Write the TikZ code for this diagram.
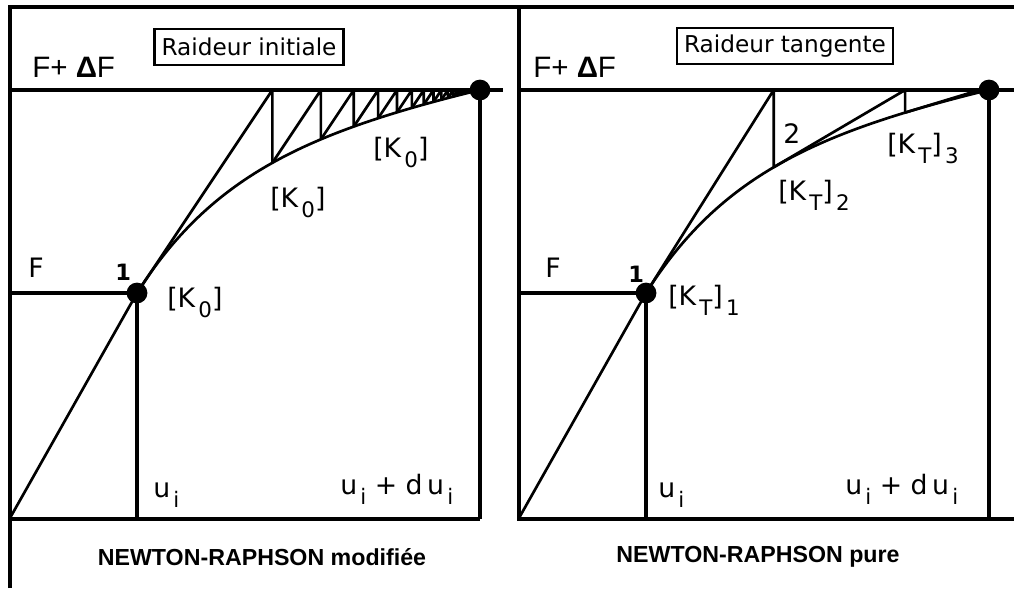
\documentclass[tikz,border=0pt]{standalone}
\usepackage{fontspec}
\usepackage{graphicx}
\setmainfont{Liberation Sans}
\newfontfamily\geneva{DejaVu Sans}
\newcommand{\ix}[1]{\raisebox{-0.7ex}{\kern0.12em\scalebox{0.8}{#1}}}
\tikzset{
  cadre/.style={line width=2.6pt},
  trait/.style={line width=1.9pt, line join=round},
  etiq/.style={font=\geneva\fontsize{19}{22}\selectfont, inner sep=0pt, anchor=base west},
  titre/.style={draw, line width=1.8pt, font=\geneva\fontsize{16.5}{20}\selectfont, inner xsep=5pt, inner ysep=0pt, minimum height=0.9cm},
  legende/.style={font=\bfseries\fontsize{16.5}{20}\selectfont},
  declare function={effort(\x)=139*(1-exp(-\x/100))+0.2*\x; raideur(\x)=1.39*exp(-\x/100)+0.2;}
}
\begin{document}
\begin{tikzpicture}[x=0.025cm,y=-0.025cm]
  \useasboundingbox (0,0) rectangle (1014,588);
  % cadre
  \draw[cadre] (10,588) -- (10,7) -- (1014,7);
  \draw[cadre] (10,519) -- (480,519);
  \draw[cadre] (519,7) -- (519,519) -- (1014,519);
  \draw[cadre] (10,90) -- (503,90);
  \draw[cadre] (519,90) -- (1014,90);
  % les deux panneaux ont la meme courbe
  \foreach \dx in {0,509}{
    \begin{scope}[shift={(\dx,0)}]
      \draw[cadre] (10,293) -- (137,293) -- (137,519);
      \draw[cadre] (480,90) -- (480,519);
      \draw[trait] (10,518) -- (137,293);
      \draw[trait] plot[domain=0:343,samples=80] ({137+\x},{293-effort(\x)});
      \fill (137,293) circle[radius=7.4pt];
      \fill (480,90) circle[radius=7.4pt];
    \end{scope}
  }
  % Newton-Raphson modifiee: pente initiale
  \gdef\ucur{0}
  \foreach \n in {1,...,14}{
    \pgfmathsetmacro\unext{\ucur+(203-effort(\ucur))/1.5}
    \draw[trait] (137+\ucur,{293-effort(\ucur)}) -- (137+\unext,90) -- (137+\unext,{293-effort(\unext)});
    \xdef\ucur{\unext}
  }
  % Newton-Raphson pure: pente tangente
  \begin{scope}[shift={(509,0)}]
    \gdef\ucur{0}
    \foreach \n in {1,2,3}{
      \pgfmathsetmacro\unext{\ucur+(203-effort(\ucur))/raideur(\ucur)}
      \draw[trait] (137+\ucur,{293-effort(\ucur)}) -- (137+\unext,90) -- (137+\unext,{293-effort(\unext)});
      \xdef\ucur{\unext}
    }
  \end{scope}
  % textes, panneau gauche
  \node[etiq, font=\fontsize{21}{24}\selectfont] (lfdf) at (32,77) {F+ \textbf{Δ}F};
  \node[titre] (tinit) at (249,47) {Raideur initiale};
  \node[etiq] (k0a) at (373,157) {[K\ix{0}]};
  \node[etiq] (k0b) at (270,207) {[K\ix{0}]};
  \node[etiq] (lf) at (28,277) {F};
  \node[etiq, font=\geneva\bfseries\fontsize{16}{19}\selectfont] (l1) at (115,280) {1};
  \node[etiq] (k0c) at (167,307) {[K\ix{0}]};
  \node[etiq] (lui) at (153,497) {u\ix{i}};
  \node[etiq] (luf) at (340,494) {u\ix{i} + d\,u\ix{i}};
  \node[legende] (nrm) at (262,557) {NEWTON-RAPHSON modifiée};
  % textes, panneau droit
  \node[etiq, font=\fontsize{21}{24}\selectfont] (rfdf) at (533,77) {F+ \textbf{Δ}F};
  \node[titre] (ttan) at (785,46) {Raideur tangente};
  \node[etiq] (r2) at (783,143) {2};
  \node[etiq] (kt3) at (887,153) {[K\ix{T}]\ix{3}};
  \node[etiq] (kt2) at (778,200) {[K\ix{T}]\ix{2}};
  \node[etiq] (rf) at (545,277) {F};
  \node[etiq, font=\geneva\bfseries\fontsize{16}{19}\selectfont] (r1) at (628,282) {1};
  \node[etiq] (kt1) at (668,305) {[K\ix{T}]\ix{1}};
  \node[etiq] (rui) at (658,497) {u\ix{i}};
  \node[etiq] (ruf) at (845,494) {u\ix{i} + d\,u\ix{i}};
  \node[legende] (nrp) at (758,557) {NEWTON-RAPHSON pure};
\end{tikzpicture}
\end{document}
